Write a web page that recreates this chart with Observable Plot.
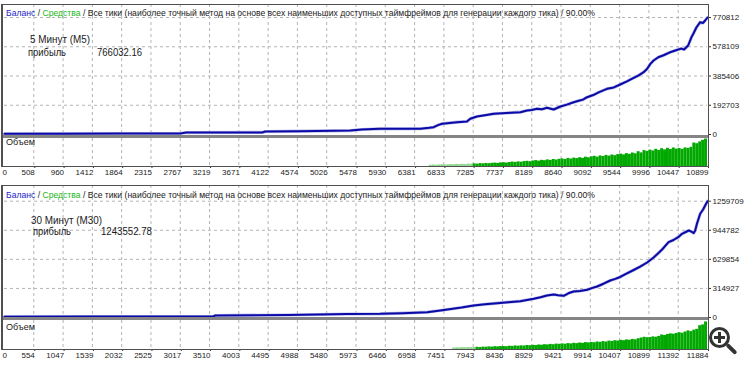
<!DOCTYPE html>
<html><head><meta charset="utf-8">
<script src="https://cdn.jsdelivr.net/npm/d3@7"></script>
<script src="https://cdn.jsdelivr.net/npm/@observablehq/plot@0.6"></script>
<style>
body{margin:0;background:#fff;}
#root{position:relative;width:750px;height:366px;overflow:hidden;background:#fff;font-family:"Liberation Sans",Arial,sans-serif;color:#1a1a1a;}
.abs{position:absolute;}
.frame{position:absolute;box-sizing:border-box;border:1px solid #505050;border-left:2px solid #505050;pointer-events:none;}
.sep{position:absolute;background:#858585;}
.lbl{position:absolute;white-space:nowrap;line-height:12px;height:12px;}
</style>
</head><body><div id="root"></div>
<script>
// ---------- DATA ----------
const xTickLabelsTop = ["0","508","960","1412","1864","2315","2767","3219","3671","4122","4574","5026","5478","5930","6381","6833","7285","7737","8189","8640","9092","9544","9996","10447","10899"];
const xTickLabelsBottom = ["0","554","1047","1539","2032","2525","3017","3510","4003","4495","4988","5480","5973","6466","6958","7451","7943","8436","8929","9421","9914","10407","10899","11392","11884"];
const yTicksTop = [0,192703,385406,578109,770812];
const yTicksBottom = [0,314927,629854,944782,1259709];

// balance curves: position in tick-interval units (0..24) and balance
const balTopX = [0,2,4,6.0,6.2,8.8,8.9,10.1,11.8,12.2,12.8,14.2,14.5,14.65,14.8,14.94,15.2,15.45,15.79,15.9,16.13,16.4,16.7,17.0,17.3,17.61,17.84,18.0,18.18,18.35,18.52,18.75,18.98,19.2,19.43,19.6,19.75,19.89,20.1,20.3,20.57,20.8,21.02,21.25,21.48,21.65,21.82,21.94,22.05,22.16,22.32,22.5,22.7,22.9,23.1,23.2,23.34,23.45,23.52,23.62,23.75,23.85,23.92,24.0];
const balTopY = [5000,5200,5800,6600,13000,13500,19500,22000,26000,33000,37500,38000,44000,48000,62000,70500,76000,81000,85600,103400,118600,127000,136400,140000,143500,147000,158000,162000,169400,166000,176000,164700,184500,197000,212800,222000,230000,245700,260000,279000,301000,310000,329400,350000,373500,389000,410400,432800,465000,487500,509000,522000,540000,553400,566000,560000,586300,640000,665400,705000,739800,735000,751000,770812];
const balBotX = [0,3,7.13,7.2,9.69,11.71,12.83,13.6,14.43,14.88,15.3,15.6,16.02,16.4,16.82,17.2,17.61,18.07,18.3,18.52,18.75,18.9,19.09,19.25,19.43,19.65,19.89,20.05,20.23,20.45,20.68,20.85,21.02,21.2,21.48,21.7,21.94,22.16,22.3,22.45,22.67,22.84,23.0,23.13,23.36,23.45,23.53,23.58,23.64,23.75,23.85,23.92,24.0];
const balBotY = [9000,10000,11500,21700,27000,38000,40000,47000,57400,75800,95000,108000,130000,143000,155000,166000,176600,202600,220000,238300,249100,241000,235000,262000,281600,288000,300000,318000,335800,366000,400800,418000,438700,470000,514500,550000,595800,650000,690000,736600,815600,839500,870000,906600,942400,930000,915000,942400,1015000,1123300,1170000,1213200,1259709];

// volume bars (lots), bars of width 0.1 tick units starting at volStart
const volTopStart = 14.5, volTopLight = 15;
const volTop = [1.2,1.5,1.3,1.6,1.8,1.5,1.7,2.0,1.8,2.1,1.9,2.2,2.0,2.4,2.3,
 2.6,2.4,2.9,2.7,3.0,2.8,3.2,3.4,3.1,3.6,
 3.8,3.5,4.0,4.4,4.1,4.6,4.3,4.9,5.2,4.8,
 5.5,5.9,5.4,6.2,5.8,6.6,6.1,7.0,6.5,7.2,
 7.6,7.0,8.1,7.5,8.4,7.9,8.8,8.2,9.3,8.7,
 9.6,10.2,9.4,10.6,10.0,11.1,10.4,11.5,10.8,11.9,
 12.4,11.6,12.9,12.2,13.5,12.7,14.8,13.6,15.9,15.1,
 16.4,15.6,17.2,16.1,17.8,16.6,18.2,17.0,18.5,17.4,
 18.0,17.2,18.6,18.1,19.2,23.5,22.8,24.6,26.2,27.5];
const volBotStart = 15.3, volBotLight = 8;
const volBot = [1.5,1.7,1.6,1.9,1.8,2.0,1.9,2.1,
 2.2,2.0,2.4,2.3,2.6,2.4,2.8,2.6,2.9,
 3.0,2.8,3.3,3.1,3.5,3.3,3.7,3.5,4.0,3.8,
 4.2,4.0,4.5,4.3,4.8,4.6,5.1,4.8,5.4,5.2,
 5.6,5.3,5.9,5.6,6.2,5.9,6.5,6.2,6.9,6.6,
 7.1,6.8,7.5,7.2,7.9,7.5,8.4,8.0,8.8,8.5,
 9.2,8.8,9.6,9.3,10.1,9.7,10.8,11.5,12.2,11.8,
 12.0,12.6,12.3,13.1,14.5,14.0,15.1,15.6,15.3,16.0,
 16.8,16.3,17.5,18.6,17.9,19.4,20.2,23.8,24.6,27.6];

const headerBal = "Баланс", headerEq = "Средства";
const headerRest = " / Все тики (наиболее точный метод на основе всех наименьших доступных таймфреймов для генерации каждого тика) / 90.00%";
const panels = [
  {tf:"5 Минут (M5)", profit:"766032.16"},
  {tf:"30 Минут (M30)", profit:"1243552.78"}
];

// ---------- DRAW ----------
const root = document.getElementById("root");
const FONT = "'Liberation Sans', Arial, sans-serif";
const GRID = {stroke:"#b4b4b4", strokeOpacity:1, strokeDasharray:"3,3", strokeWidth:1};

function place(el, left, top) {
  const d = document.createElement("div");
  d.className = "abs";
  d.style.left = left + "px"; d.style.top = top + "px"; d.style.width = "750px";
  d.appendChild(el); root.appendChild(d);
}

function mainPlot(bx, by, yTicks, height, y0, yTop) {
  const data = bx.map((x, i) => ({x, y: by[i]}));
  return Plot.plot({
    width: 750, height, marginLeft: 4, marginRight: 43, marginTop: 4, marginBottom: 1,
    style: {background: "transparent", fontFamily: FONT, fontSize: "8px", color: "#1a1a1a", maxWidth: "none", overflow: "visible"},
    x: {domain: [0, 24], range: [4, 707], axis: null},
    y: {domain: [0, yTicks[yTicks.length - 1]], range: [y0, yTop], axis: null},
    marks: [
      Plot.gridX({ticks: d3.range(1, 24), ...GRID}),
      Plot.gridY({ticks: yTicks.slice(1), ...GRID}),
      Plot.line(data, {x: "x", y: "y", stroke: "#b9b9e8", strokeWidth: 3.2}),
      Plot.line(data, {x: "x", y: "y", stroke: "#0a0aa6", strokeWidth: 2}),
      Plot.axisY({anchor: "right", label: null, ticks: yTicks, tickFormat: d => String(d), tickSize: 3, tickPadding: 2, fontSize: 8, stroke: "#333"})
    ]
  });
}

function volPlot(start, vals, nLight, labels, height, yMax) {
  const bars = vals.map((v, i) => ({x1: start + i * 0.1, x2: start + (i + 1) * 0.1, v, light: i < nLight}));
  return Plot.plot({
    width: 750, height, marginLeft: 4, marginRight: 43, marginTop: 0, marginBottom: 14,
    style: {background: "transparent", fontFamily: FONT, fontSize: "8px", color: "#1a1a1a", maxWidth: "none", overflow: "visible"},
    x: {domain: [0, 24], range: [4, 707], axis: null},
    y: {domain: [0, yMax], axis: null},
    marks: [
      Plot.gridX({ticks: d3.range(1, 24), ...GRID}),
      Plot.rectY(bars.filter(d => d.light), {x1: "x1", x2: "x2", y: "v", fill: "#8fd88f", inset: 0}),
      Plot.rectY(bars.filter(d => !d.light), {x1: "x1", x2: "x2", y: "v", fill: "#00a800", inset: 0}),
      Plot.axisX({ticks: d3.range(1, 25), label: null, tickFormat: i => labels[i], textAnchor: "end", tickSize: 2, tickPadding: 1, fontSize: 8, dx: 1, stroke: "#333"}),
      Plot.axisX({ticks: [0], label: null, tickFormat: i => labels[i], textAnchor: "start", tickSize: 0, tickPadding: 3, fontSize: 8, dx: -2})
    ]
  });
}

function label(text, left, cy, size, color, targetW) {
  const d = document.createElement("div");
  d.className = "lbl";
  d.style.left = left + "px"; d.style.top = (cy - 6) + "px";
  d.style.fontSize = size + "px";
  if (color) d.style.color = color;
  if (typeof text === "string") d.textContent = text; else text.forEach(s => d.appendChild(s));
  root.appendChild(d);
  if (targetW) {
    const w = d.getBoundingClientRect().width;
    d.style.transformOrigin = "left center";
    d.style.transform = `scaleX(${targetW / w})`;
  }
  return d;
}
function span(t, c) { const s = document.createElement("span"); s.textContent = t; s.style.color = c; return s; }

// top panel
place(mainPlot(balTopX, balTopY, yTicksTop, 136, 134, 17), 0, 0);
place(volPlot(volTopStart, volTop, volTopLight, xTickLabelsTop, 42, 28), 0, 138);
// bottom panel
place(mainPlot(balBotX, balBotY, yTicksBottom, 138, 136, 19.7), 0, 181);
place(volPlot(volBotStart, volBot, volBotLight, xTickLabelsBottom, 43, 29), 0, 320);

// frames and separators
[[4, 163, 135], [185, 165, 317]].forEach(([top, h, sepTop]) => {
  const s = document.createElement("div"); s.className = "sep";
  s.style.left = "1px"; s.style.top = sepTop + "px"; s.style.width = "708px"; s.style.height = "3px";
  root.appendChild(s);
  const f = document.createElement("div"); f.className = "frame";
  f.style.left = "1px"; f.style.top = top + "px"; f.style.width = "708px"; f.style.height = h + "px";
  root.appendChild(f);
});

// texts
[13, 195].forEach(cy => {
  label([span(headerBal, "#1c1cc8"), span(" / ", "#1a1a1a"), span(headerEq, "#18b818"), span(headerRest, "#1a1a1a")], 6, cy, 9, null, 589);
});
label(panels[0].tf, 30, 40, 10, "#1a1a1a", 60);
label("прибыль", 28, 53, 10, "#1a1a1a", 38);
label(panels[0].profit, 97, 53, 10, "#1a1a1a", 45);
label(panels[1].tf, 31, 221, 10, "#1a1a1a", 71);
label("прибыль", 33, 232, 10, "#1a1a1a", 38);
label(panels[1].profit, 101, 232, 10, "#1a1a1a", 51);
label("Объем", 6, 142, 8.5, "#1a1a1a", 29);
label("Объем", 6, 327, 8.5, "#1a1a1a", 29);

// zoom icon (page decoration)
const icon = document.createElement("div");
icon.className = "abs";
icon.style.cssText = "left:709px;top:327px;width:21px;height:21px;box-sizing:border-box;border:3px solid #333;border-radius:50%;background:#fff;";
root.appendChild(icon);
[["left:714px;top:336px;width:11px;height:3px;"],["left:718px;top:332px;width:3px;height:11px;"],["left:725px;top:347px;width:13px;height:4px;border-radius:2px;transform:rotate(45deg);"]].forEach(([c]) => {
  const b = document.createElement("div"); b.className = "abs"; b.style.cssText = c + "background:#333;"; root.appendChild(b);
});
</script></body></html>
